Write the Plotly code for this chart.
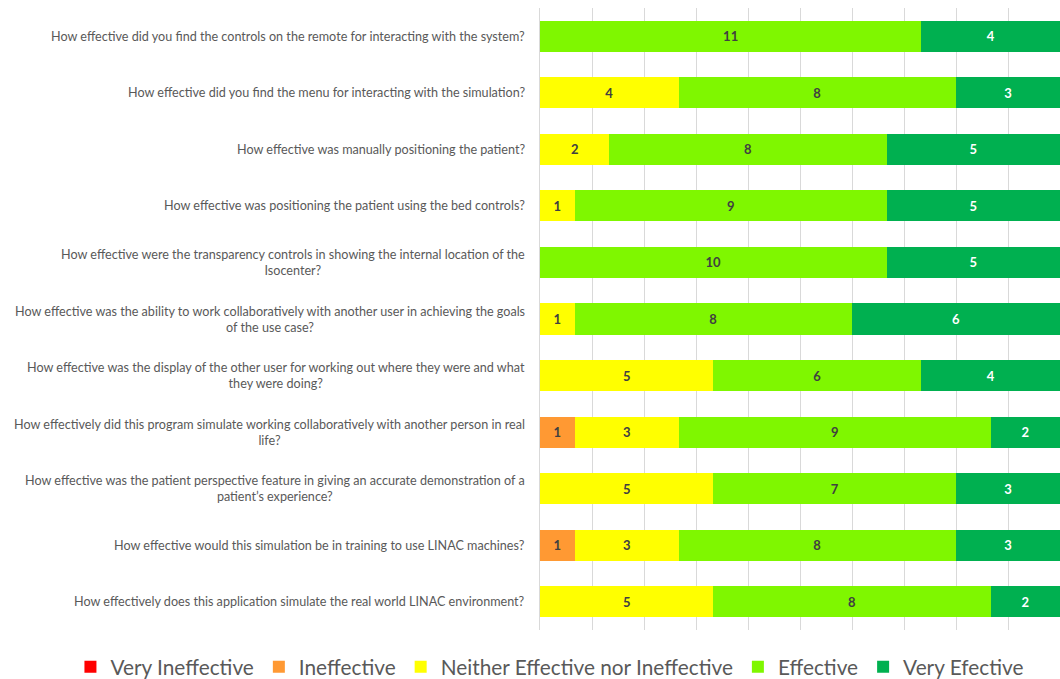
import plotly.graph_objects as go

questions = [
    "How effective did you find the controls on the remote for interacting with the system?",
    "How effective did you find the menu for interacting with the simulation?",
    "How effective was manually positioning the patient?",
    "How effective was positioning the patient using the bed controls?",
    "How effective were the transparency controls in showing the internal location of the<br>Isocenter?",
    "How effective was the ability to work collaboratively with another user in achieving the goals<br>of the use case?",
    "How effective was the display of the other user for working out where they were and what<br>they were doing?",
    "How effectively did this program simulate working collaboratively with another person in real<br>life?",
    "How effective was the patient perspective feature in giving an accurate demonstration of a<br>patient\u2019s experience?",
    "How effective would this simulation be in training to use LINAC machines?",
    "How effectively does this application simulate the real world LINAC environment?",
]

very_ineffective = [0, 0, 0, 0, 0, 0, 0, 0, 0, 0, 0]
ineffective      = [0, 0, 0, 0, 0, 0, 0, 1, 0, 1, 0]
neither          = [0, 4, 2, 1, 0, 1, 5, 3, 5, 3, 5]
effective        = [11, 8, 8, 9, 10, 8, 6, 9, 7, 8, 8]
very_effective   = [4, 3, 5, 5, 5, 6, 4, 2, 3, 3, 2]

series = [
    ("Very Ineffective", very_ineffective, "#FF0000", "#404040"),
    ("Ineffective", ineffective, "#FF9933", "#404040"),
    ("Neither Effective nor Ineffective", neither, "#FFFF00", "#404040"),
    ("Effective", effective, "#7FF700", "#404040"),
    ("Very Efective", very_effective, "#00B050", "#FFFFFF"),
]

ids = list(range(len(questions)))

fig = go.Figure()
for name, vals, color, tcolor in series:
    fig.add_trace(go.Bar(
        y=ids, x=vals, orientation="h", name=name,
        marker=dict(color=color, line=dict(width=0)),
        text=[f"<b>{v}</b>" if v else "" for v in vals],
        textposition="inside", insidetextanchor="middle",
        textfont=dict(family="Lato", size=13, color=tcolor),
        constraintext="none",
    ))

for i, q in enumerate(questions):
    fig.add_annotation(
        x=0, xref="paper", y=i, yref="y", text=q, showarrow=False,
        xanchor="right", align="center", xshift=-13,
        font=dict(family="Lato", size=12.6, color="#595959"),
    )

fig.update_layout(
    barmode="stack", bargap=0.45,
    width=1060, height=679,
    margin=dict(l=540, r=0, t=8, b=49, autoexpand=False),
    plot_bgcolor="white", paper_bgcolor="white",
    legend=dict(orientation="h", xref="paper", yref="paper",
                x=-0.903, xanchor="left", y=-0.06, yanchor="middle",
                font=dict(family="Lato", size=20.8, color="#595959"),
                itemwidth=30, traceorder="normal"),
    uniformtext=dict(mode="show", minsize=8),
)
fig.update_xaxes(range=[0, 15], dtick=1.5, tick0=0, showticklabels=False,
                 showgrid=True, gridcolor="#D9D9D9", gridwidth=1, zeroline=False,
                 fixedrange=True)
fig.update_yaxes(autorange="reversed", showticklabels=False, showgrid=False,
                 showline=True, linecolor="#D9D9D9", zeroline=False)

fig.write_html("out.html")
